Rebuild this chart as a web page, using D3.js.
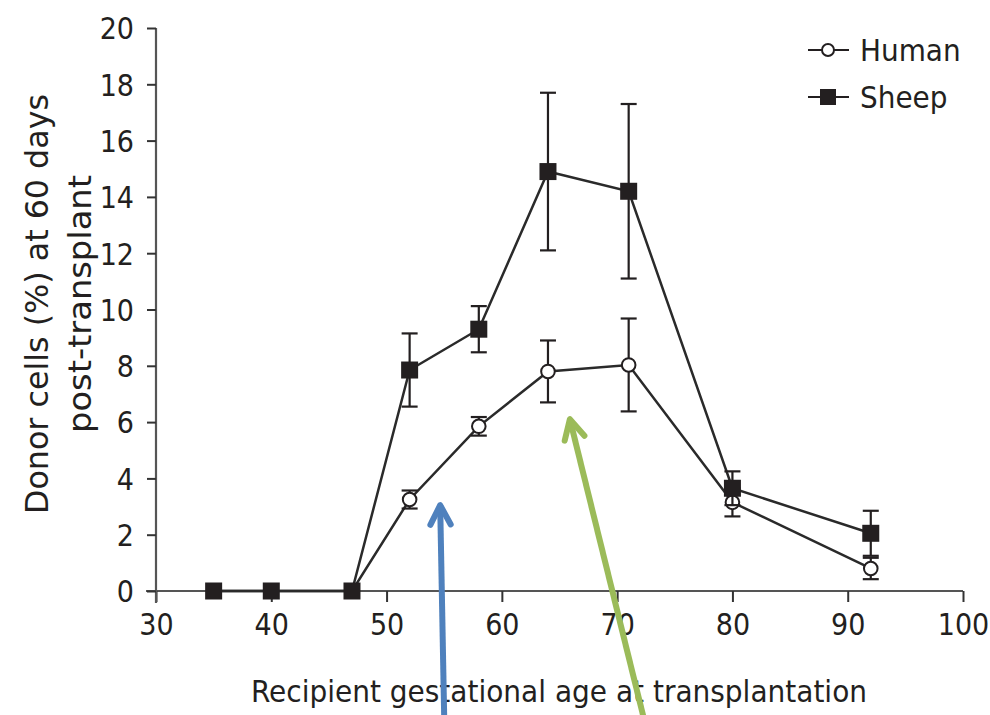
<!DOCTYPE html>
<html><head><meta charset="utf-8">
<script src="https://cdn.jsdelivr.net/npm/d3@7"></script>
<style>
html,body{margin:0;padding:0;background:#fff;}
svg{display:block;}
text{font-family:"Liberation Sans Narrow","DejaVu Sans Condensed","Roboto Condensed",sans-serif;fill:#231f20;}
</style></head>
<body>
<svg id="chart" width="990" height="715"></svg>
<script>
// ---- data ----
const ages = [35, 40, 47, 52, 58, 64, 71, 80, 92];
const humanValues = [0, 0, 0, 3.25, 5.85, 7.8, 8.03, 3.15, 0.8];
const humanErrors = [0, 0, 0, 0.32, 0.33, 1.1, 1.65, 0.5, 0.38];
const sheepValues = [0, 0, 0, 7.85, 9.3, 14.9, 14.2, 3.65, 2.05];
const sheepErrors = [0, 0, 0, 1.3, 0.82, 2.8, 3.1, 0.6, 0.8];
const xTicks = [30, 40, 50, 60, 70, 80, 90, 100];
const yTicks = [0, 2, 4, 6, 8, 10, 12, 14, 16, 18, 20];
const seriesNames = ["Human", "Sheep"];
// annotation arrows (data coordinates: start -> tip)
const arrowStarts = [[55.0, -4.5], [72.3, -4.5]];
const arrowTips = [[54.65, 3.05], [65.9, 6.1]];
const arrowColors = ["#4f81bd", "#9bbb59"];

const svg = d3.select("#chart");
const x = d3.scaleLinear().domain([30, 100]).range([156, 963]);
const y = d3.scaleLinear().domain([0, 20]).range([591, 28]);
const ink = "#231f20";

// axes
const xAxis = d3.axisBottom(x).tickValues(xTicks).tickSize(11).tickPadding(12).tickSizeOuter(0);
const gx = svg.append("g").attr("transform", `translate(0,${y(0)})`).call(xAxis);
gx.select(".domain").attr("stroke", "#555").attr("stroke-width", 2.2).attr("d", `M${x(30)-10},0H${x(100)}`);
gx.selectAll(".tick line").attr("stroke", "#333").attr("stroke-width", 2);
gx.selectAll(".tick text").attr("font-size", 30).style("fill", ink);

const yAxis = d3.axisLeft(y).tickValues(yTicks).tickSize(9).tickPadding(13).tickSizeOuter(0);
const gy = svg.append("g").attr("transform", `translate(${x(30)},0)`).call(yAxis);
gy.select(".domain").attr("stroke", "#555").attr("stroke-width", 2.2).attr("d", `M0,${y(20)}V${y(0)+12}`);
gy.selectAll(".tick line").attr("stroke", "#333").attr("stroke-width", 2);
gy.selectAll(".tick text").attr("font-size", 30).attr("dy", "0.36em").style("fill", ink);

// axis titles
svg.append("text").attr("x", 559).attr("y", 702).attr("text-anchor", "middle")
  .attr("font-size", 31).attr("textLength", 616).attr("lengthAdjust", "spacingAndGlyphs")
  .text("Recipient gestational age at transplantation");
const yt = svg.append("text").attr("transform", "translate(48,304) rotate(-90)")
  .attr("text-anchor", "middle").attr("font-size", 32);
yt.append("tspan").attr("x", 0).attr("dy", 0).attr("textLength", 420).attr("lengthAdjust", "spacingAndGlyphs")
  .text("Donor cells (%) at 60 days");
yt.append("tspan").attr("x", 0).attr("dy", 43).attr("textLength", 258).attr("lengthAdjust", "spacingAndGlyphs")
  .text("post-transplant");

// series
const series = [
  {name: seriesNames[0], values: humanValues, errors: humanErrors, shape: "circle"},
  {name: seriesNames[1], values: sheepValues, errors: sheepErrors, shape: "square"}
];
const line = d3.line().x(d => x(d[0])).y(d => y(d[1]));
const capW = 8;
series.forEach(s => {
  const pts = ages.map((a, i) => [a, s.values[i], s.errors[i]]);
  const g = svg.append("g");
  g.append("path").datum(pts).attr("d", line).attr("fill", "none")
    .attr("stroke", "#2a2a2a").attr("stroke-width", 2.5);
  const eb = g.selectAll(".eb").data(pts.filter(p => p[2] > 0)).join("g");
  eb.append("line").attr("x1", d => x(d[0])).attr("x2", d => x(d[0]))
    .attr("y1", d => y(d[1] + d[2])).attr("y2", d => y(d[1] - d[2]))
    .attr("stroke", ink).attr("stroke-width", 2.2);
  [1, -1].forEach(sg => {
    eb.append("line").attr("x1", d => x(d[0]) - capW).attr("x2", d => x(d[0]) + capW)
      .attr("y1", d => y(d[1] + sg * d[2])).attr("y2", d => y(d[1] + sg * d[2]))
      .attr("stroke", ink).attr("stroke-width", 2.2);
  });
  if (s.shape === "circle") {
    g.selectAll("circle").data(pts).join("circle")
      .attr("cx", d => x(d[0])).attr("cy", d => y(d[1])).attr("r", 6.8)
      .attr("fill", "#fff").attr("stroke", ink).attr("stroke-width", 2);
  } else {
    g.selectAll("rect").data(pts).join("rect")
      .attr("x", d => x(d[0]) - 8.5).attr("y", d => y(d[1]) - 8.5)
      .attr("width", 17).attr("height", 17).attr("fill", ink);
  }
});

// legend
const leg = svg.append("g");
series.forEach((s, i) => {
  const ly = 50 + i * 47;
  leg.append("line").attr("x1", 808).attr("x2", 849).attr("y1", ly).attr("y2", ly)
    .attr("stroke", ink).attr("stroke-width", 2);
  if (s.shape === "circle") {
    leg.append("circle").attr("cx", 828).attr("cy", ly).attr("r", 6)
      .attr("fill", "#fff").attr("stroke", ink).attr("stroke-width", 2);
  } else {
    leg.append("rect").attr("x", 820).attr("y", ly - 8).attr("width", 16).attr("height", 16).attr("fill", ink);
  }
  leg.append("text").attr("x", 860).attr("y", ly).attr("dy", "0.36em")
    .attr("font-size", 31).text(s.name);
});

// arrows
arrowStarts.forEach((st, i) => {
  const x0 = x(st[0]), y0 = y(st[1]), x1 = x(arrowTips[i][0]), y1 = y(arrowTips[i][1]);
  const ang = Math.atan2(y1 - y0, x1 - x0);
  const L = 22, spread = 0.48;
  const g = svg.append("g").attr("stroke", arrowColors[i]).attr("stroke-width", 6)
    .attr("stroke-linecap", "round").attr("stroke-linejoin", "round").attr("fill", "none");
  g.append("line").attr("x1", x0).attr("y1", y0).attr("x2", x1).attr("y2", y1).attr("stroke-linecap", "butt");
  g.append("path").attr("d",
    `M${x1 - L * Math.cos(ang - spread)},${y1 - L * Math.sin(ang - spread)}L${x1},${y1}L${x1 - L * Math.cos(ang + spread)},${y1 - L * Math.sin(ang + spread)}`);
});
</script>
</body></html>
